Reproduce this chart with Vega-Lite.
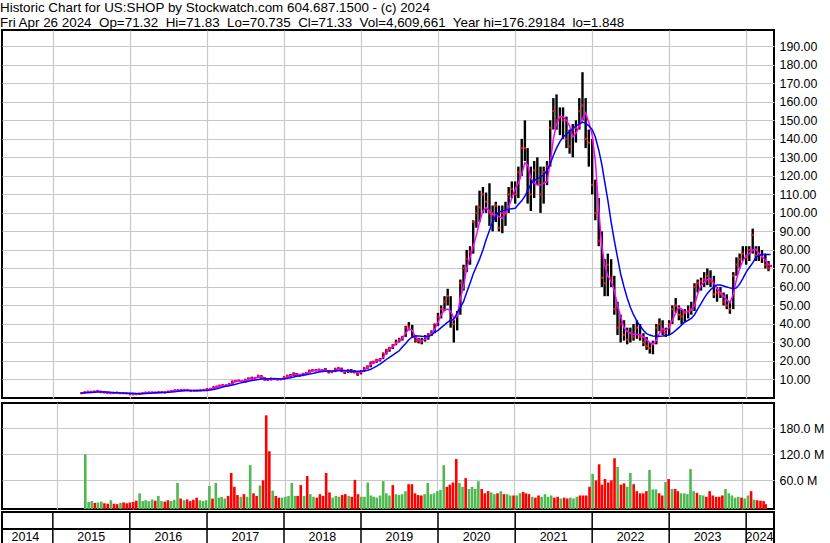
{
"$schema": "https://vega.github.io/schema/vega-lite/v6.json",
"background": "white",
"padding": {"left": 0, "right": 0, "top": 0, "bottom": 0},
"title": {"text": ["Historic Chart for US:SHOP by Stockwatch.com 604.687.1500 - (c) 2024", "Fri Apr 26 2024\u00a0 Op=71.32\u00a0 Hi=71.83\u00a0 Lo=70.735\u00a0 Cl=71.33\u00a0 Vol=4,609,661\u00a0 Year hi=176.29184\u00a0 lo=1.848"], "anchor": "start", "font": "Liberation Sans", "fontSize": 13.4, "fontWeight": "normal", "color": "black", "lineHeight": 15, "offset": 0},
"datasets": {
"p": [
{"d":"2015-05-16","h":3.0,"l":2.5,"c":2.6,"m":2.6,"b":2.6,"v":120,"s":"u"},
{"d":"2015-06-01","h":3.3,"l":2.6,"c":3.1,"m":2.9,"b":2.8,"v":10,"s":"u"},
{"d":"2015-06-16","h":3.5,"l":3.0,"c":3.4,"m":3.2,"b":2.9,"v":12,"s":"u"},
{"d":"2015-07-01","h":3.6,"l":3.1,"c":3.3,"m":3.3,"b":3.0,"v":8,"s":"d"},
{"d":"2015-07-16","h":3.7,"l":3.2,"c":3.5,"m":3.4,"b":3.1,"v":9,"s":"u"},
{"d":"2015-08-01","h":4.0,"l":3.4,"c":3.8,"m":3.6,"b":3.2,"v":11,"s":"u"},
{"d":"2015-08-16","h":3.9,"l":3.0,"c":3.2,"m":3.5,"b":3.3,"v":7,"s":"d"},
{"d":"2015-09-01","h":3.4,"l":2.8,"c":3.0,"m":3.2,"b":3.3,"v":6,"s":"d"},
{"d":"2015-09-16","h":3.2,"l":2.6,"c":2.7,"m":2.9,"b":3.2,"v":14,"s":"u"},
{"d":"2015-10-01","h":2.9,"l":2.4,"c":2.6,"m":2.7,"b":3.1,"v":6,"s":"d"},
{"d":"2015-10-16","h":3.0,"l":2.5,"c":2.8,"m":2.7,"b":2.9,"v":5,"s":"d"},
{"d":"2015-11-01","h":3.1,"l":2.6,"c":2.9,"m":2.8,"b":2.8,"v":8,"s":"u"},
{"d":"2015-11-16","h":3.0,"l":2.5,"c":2.6,"m":2.8,"b":2.7,"v":9,"s":"d"},
{"d":"2015-12-01","h":2.8,"l":2.4,"c":2.6,"m":2.6,"b":2.7,"v":7,"s":"d"},
{"d":"2015-12-16","h":2.7,"l":2.3,"c":2.5,"m":2.6,"b":2.6,"v":9,"s":"d"},
{"d":"2016-01-01","h":2.6,"l":2.0,"c":2.1,"m":2.4,"b":2.6,"v":10,"s":"d"},
{"d":"2016-01-16","h":2.3,"l":1.9,"c":2.0,"m":2.2,"b":2.5,"v":13,"s":"d"},
{"d":"2016-02-01","h":2.3,"l":1.85,"c":2.1,"m":2.1,"b":2.4,"v":30,"s":"u"},
{"d":"2016-02-16","h":2.5,"l":2.0,"c":2.4,"m":2.2,"b":2.3,"v":12,"s":"u"},
{"d":"2016-03-01","h":2.8,"l":2.3,"c":2.7,"m":2.5,"b":2.3,"v":14,"s":"u"},
{"d":"2016-03-16","h":3.0,"l":2.6,"c":2.9,"m":2.8,"b":2.4,"v":12,"s":"u"},
{"d":"2016-04-01","h":3.1,"l":2.7,"c":3.0,"m":2.9,"b":2.5,"v":16,"s":"u"},
{"d":"2016-04-16","h":3.2,"l":2.8,"c":3.0,"m":3.0,"b":2.7,"v":13,"s":"d"},
{"d":"2016-05-01","h":3.2,"l":2.6,"c":2.9,"m":3.0,"b":2.8,"v":24,"s":"u"},
{"d":"2016-05-16","h":3.3,"l":2.8,"c":3.2,"m":3.0,"b":2.9,"v":12,"s":"u"},
{"d":"2016-06-01","h":3.4,"l":2.9,"c":3.1,"m":3.1,"b":3.0,"v":11,"s":"d"},
{"d":"2016-06-16","h":3.3,"l":2.8,"c":3.0,"m":3.1,"b":3.0,"v":14,"s":"d"},
{"d":"2016-07-01","h":3.6,"l":3.0,"c":3.5,"m":3.3,"b":3.1,"v":12,"s":"u"},
{"d":"2016-07-16","h":3.9,"l":3.4,"c":3.8,"m":3.6,"b":3.2,"v":15,"s":"u"},
{"d":"2016-08-01","h":4.3,"l":3.7,"c":4.2,"m":3.9,"b":3.4,"v":54,"s":"u"},
{"d":"2016-08-16","h":4.4,"l":4.0,"c":4.2,"m":4.2,"b":3.6,"v":18,"s":"d"},
{"d":"2016-09-01","h":4.5,"l":4.0,"c":4.3,"m":4.2,"b":3.8,"v":14,"s":"u"},
{"d":"2016-09-16","h":4.6,"l":4.1,"c":4.3,"m":4.3,"b":3.9,"v":16,"s":"d"},
{"d":"2016-10-01","h":4.4,"l":3.9,"c":4.2,"m":4.2,"b":4.0,"v":12,"s":"d"},
{"d":"2016-10-16","h":4.3,"l":3.7,"c":3.8,"m":4.0,"b":4.1,"v":15,"s":"d"},
{"d":"2016-11-01","h":4.0,"l":3.5,"c":3.9,"m":3.9,"b":4.1,"v":20,"s":"d"},
{"d":"2016-11-16","h":4.2,"l":3.7,"c":4.0,"m":3.9,"b":4.0,"v":14,"s":"u"},
{"d":"2016-12-01","h":4.3,"l":3.8,"c":4.1,"m":4.0,"b":4.0,"v":12,"s":"u"},
{"d":"2016-12-16","h":4.4,"l":3.9,"c":4.3,"m":4.2,"b":4.0,"v":14,"s":"u"},
{"d":"2017-01-01","h":5.0,"l":4.2,"c":4.8,"m":4.5,"b":4.1,"v":47,"s":"u"},
{"d":"2017-01-16","h":5.2,"l":4.6,"c":4.9,"m":4.8,"b":4.3,"v":18,"s":"d"},
{"d":"2017-02-01","h":6.0,"l":4.9,"c":5.9,"m":5.3,"b":4.6,"v":54,"s":"u"},
{"d":"2017-02-16","h":6.5,"l":5.7,"c":6.2,"m":6.0,"b":5.0,"v":20,"s":"u"},
{"d":"2017-03-01","h":6.9,"l":6.1,"c":6.7,"m":6.4,"b":5.4,"v":22,"s":"u"},
{"d":"2017-03-16","h":7.3,"l":6.6,"c":7.0,"m":6.8,"b":5.9,"v":18,"s":"u"},
{"d":"2017-04-01","h":7.2,"l":6.5,"c":6.8,"m":6.9,"b":6.3,"v":24,"s":"d"},
{"d":"2017-04-16","h":7.8,"l":6.7,"c":7.5,"m":7.1,"b":6.6,"v":77,"s":"d"},
{"d":"2017-05-01","h":9.2,"l":7.4,"c":9.0,"m":8.0,"b":7.0,"v":45,"s":"d"},
{"d":"2017-05-16","h":9.6,"l":8.6,"c":9.2,"m":8.9,"b":7.4,"v":26,"s":"d"},
{"d":"2017-06-01","h":9.8,"l":8.8,"c":9.4,"m":9.2,"b":7.9,"v":22,"s":"u"},
{"d":"2017-06-16","h":9.5,"l":8.3,"c":8.8,"m":9.1,"b":8.3,"v":28,"s":"d"},
{"d":"2017-07-01","h":10.0,"l":8.5,"c":9.8,"m":9.3,"b":8.6,"v":22,"s":"u"},
{"d":"2017-07-16","h":11.0,"l":9.6,"c":10.5,"m":10.0,"b":9.0,"v":95,"s":"u"},
{"d":"2017-08-01","h":11.5,"l":10.0,"c":10.6,"m":10.6,"b":9.4,"v":30,"s":"d"},
{"d":"2017-08-16","h":11.3,"l":10.2,"c":10.8,"m":10.7,"b":9.7,"v":24,"s":"d"},
{"d":"2017-09-01","h":12.2,"l":10.8,"c":12.0,"m":11.3,"b":10.0,"v":48,"s":"u"},
{"d":"2017-09-16","h":12.3,"l":10.5,"c":11.0,"m":11.6,"b":10.2,"v":60,"s":"d"},
{"d":"2017-10-01","h":11.2,"l":9.5,"c":10.0,"m":10.8,"b":10.4,"v":210,"s":"d"},
{"d":"2017-10-16","h":10.6,"l":9.3,"c":9.8,"m":10.1,"b":10.4,"v":127,"s":"d"},
{"d":"2017-11-01","h":10.8,"l":9.5,"c":10.5,"m":10.0,"b":10.4,"v":36,"s":"u"},
{"d":"2017-11-16","h":10.9,"l":9.8,"c":10.2,"m":10.3,"b":10.4,"v":24,"s":"d"},
{"d":"2017-12-01","h":10.5,"l":9.6,"c":10.0,"m":10.1,"b":10.4,"v":20,"s":"d"},
{"d":"2017-12-16","h":10.5,"l":9.7,"c":10.1,"m":10.1,"b":10.3,"v":20,"s":"u"},
{"d":"2018-01-01","h":11.5,"l":10.0,"c":11.2,"m":10.5,"b":10.4,"v":22,"s":"u"},
{"d":"2018-01-16","h":12.5,"l":11.0,"c":12.0,"m":11.5,"b":10.6,"v":24,"s":"u"},
{"d":"2018-02-01","h":13.0,"l":11.0,"c":12.0,"m":12.0,"b":10.9,"v":54,"s":"u"},
{"d":"2018-02-16","h":13.8,"l":11.8,"c":13.0,"m":12.5,"b":11.3,"v":24,"s":"u"},
{"d":"2018-03-01","h":13.5,"l":12.0,"c":12.3,"m":12.8,"b":11.7,"v":24,"s":"d"},
{"d":"2018-03-16","h":13.0,"l":11.5,"c":12.5,"m":12.5,"b":12.0,"v":49,"s":"d"},
{"d":"2018-04-01","h":13.5,"l":11.8,"c":13.0,"m":12.6,"b":12.3,"v":24,"s":"u"},
{"d":"2018-04-16","h":14.0,"l":12.5,"c":13.3,"m":13.2,"b":12.6,"v":70,"s":"d"},
{"d":"2018-05-01","h":15.0,"l":13.2,"c":14.8,"m":13.9,"b":12.9,"v":28,"s":"u"},
{"d":"2018-05-16","h":15.5,"l":14.3,"c":15.0,"m":14.7,"b":13.2,"v":22,"s":"u"},
{"d":"2018-06-01","h":15.6,"l":14.5,"c":14.9,"m":15.0,"b":13.6,"v":20,"s":"d"},
{"d":"2018-06-16","h":15.8,"l":14.3,"c":15.2,"m":15.0,"b":14.0,"v":28,"s":"d"},
{"d":"2018-07-01","h":15.5,"l":14.2,"c":14.6,"m":15.0,"b":14.3,"v":24,"s":"d"},
{"d":"2018-07-16","h":16.2,"l":14.3,"c":15.5,"m":15.0,"b":14.5,"v":77,"s":"d"},
{"d":"2018-08-01","h":15.0,"l":13.3,"c":14.0,"m":14.6,"b":14.6,"v":32,"s":"d"},
{"d":"2018-08-16","h":14.5,"l":13.4,"c":14.2,"m":14.1,"b":14.6,"v":20,"s":"u"},
{"d":"2018-09-01","h":16.0,"l":14.0,"c":15.8,"m":14.8,"b":14.6,"v":24,"s":"u"},
{"d":"2018-09-16","h":16.5,"l":15.0,"c":16.2,"m":15.8,"b":14.7,"v":22,"s":"u"},
{"d":"2018-10-01","h":16.4,"l":14.0,"c":14.5,"m":15.6,"b":14.8,"v":26,"s":"d"},
{"d":"2018-10-16","h":15.0,"l":13.0,"c":13.8,"m":14.3,"b":14.8,"v":28,"s":"d"},
{"d":"2018-11-01","h":15.5,"l":13.5,"c":15.0,"m":14.4,"b":14.7,"v":24,"s":"u"},
{"d":"2018-11-16","h":15.6,"l":13.6,"c":14.2,"m":14.7,"b":14.6,"v":22,"s":"d"},
{"d":"2018-12-01","h":15.0,"l":13.5,"c":13.8,"m":14.3,"b":14.5,"v":61,"s":"d"},
{"d":"2018-12-16","h":14.2,"l":12.0,"c":13.2,"m":13.6,"b":14.4,"v":28,"s":"d"},
{"d":"2019-01-01","h":15.0,"l":12.8,"c":14.5,"m":13.8,"b":14.5,"v":22,"s":"u"},
{"d":"2019-01-16","h":16.5,"l":14.2,"c":16.2,"m":15.2,"b":14.6,"v":22,"s":"u"},
{"d":"2019-02-01","h":17.5,"l":15.8,"c":17.0,"m":16.5,"b":15.0,"v":55,"s":"u"},
{"d":"2019-02-16","h":19.5,"l":16.6,"c":19.2,"m":18.0,"b":15.5,"v":25,"s":"u"},
{"d":"2019-03-01","h":20.0,"l":18.5,"c":19.6,"m":19.2,"b":16.3,"v":22,"s":"u"},
{"d":"2019-03-16","h":21.0,"l":19.0,"c":20.6,"m":20.0,"b":17.2,"v":20,"s":"u"},
{"d":"2019-04-01","h":21.5,"l":19.8,"c":21.0,"m":20.6,"b":18.3,"v":25,"s":"u"},
{"d":"2019-04-16","h":24.5,"l":21.0,"c":24.0,"m":22.0,"b":19.5,"v":58,"s":"u"},
{"d":"2019-05-01","h":26.5,"l":23.5,"c":26.0,"m":24.5,"b":20.8,"v":30,"s":"u"},
{"d":"2019-05-16","h":27.5,"l":25.0,"c":27.0,"m":26.3,"b":22.0,"v":25,"s":"u"},
{"d":"2019-06-01","h":29.0,"l":26.5,"c":28.5,"m":27.6,"b":23.2,"v":49,"s":"d"},
{"d":"2019-06-16","h":31.5,"l":28.5,"c":30.0,"m":29.5,"b":24.4,"v":28,"s":"u"},
{"d":"2019-07-01","h":32.5,"l":30.0,"c":31.5,"m":30.8,"b":25.5,"v":26,"s":"u"},
{"d":"2019-07-16","h":33.5,"l":31.0,"c":33.0,"m":32.0,"b":27.5,"v":28,"s":"u"},
{"d":"2019-08-01","h":39.0,"l":33.0,"c":38.0,"m":35.0,"b":29.5,"v":35,"s":"u"},
{"d":"2019-08-16","h":41.0,"l":36.5,"c":38.5,"m":37.5,"b":31.5,"v":51,"s":"d"},
{"d":"2019-09-01","h":39.5,"l":32.5,"c":33.0,"m":36.5,"b":33.0,"v":51,"s":"d"},
{"d":"2019-09-16","h":34.0,"l":30.0,"c":31.2,"m":33.0,"b":33.5,"v":30,"s":"d"},
{"d":"2019-10-01","h":32.5,"l":29.5,"c":31.0,"m":31.5,"b":33.5,"v":26,"s":"d"},
{"d":"2019-10-16","h":32.5,"l":29.0,"c":30.5,"m":31.0,"b":33.3,"v":25,"s":"d"},
{"d":"2019-11-01","h":34.0,"l":30.5,"c":33.0,"m":31.8,"b":33.2,"v":28,"s":"u"},
{"d":"2019-11-16","h":35.0,"l":31.5,"c":34.0,"m":33.0,"b":33.2,"v":54,"s":"u"},
{"d":"2019-12-01","h":36.5,"l":33.5,"c":35.5,"m":34.5,"b":34.0,"v":28,"s":"u"},
{"d":"2019-12-16","h":40.0,"l":35.0,"c":39.8,"m":37.0,"b":35.5,"v":30,"s":"u"},
{"d":"2020-01-01","h":46.0,"l":39.0,"c":44.0,"m":41.0,"b":36.5,"v":35,"s":"u"},
{"d":"2020-01-16","h":50.0,"l":43.0,"c":48.0,"m":45.0,"b":38.0,"v":38,"s":"u"},
{"d":"2020-02-01","h":55.0,"l":47.0,"c":52.0,"m":47.5,"b":39.5,"v":95,"s":"u"},
{"d":"2020-02-16","h":59.0,"l":50.0,"c":55.0,"m":48.0,"b":41.0,"v":45,"s":"d"},
{"d":"2020-03-01","h":55.0,"l":38.0,"c":42.0,"m":47.0,"b":42.0,"v":50,"s":"d"},
{"d":"2020-03-16","h":42.0,"l":30.0,"c":40.0,"m":43.0,"b":42.5,"v":55,"s":"d"},
{"d":"2020-04-01","h":47.0,"l":36.5,"c":45.0,"m":44.0,"b":46.0,"v":109,"s":"d"},
{"d":"2020-04-16","h":64.0,"l":45.0,"c":62.0,"m":54.0,"b":49.0,"v":54,"s":"u"},
{"d":"2020-05-01","h":72.0,"l":58.0,"c":70.0,"m":60.0,"b":52.0,"v":45,"s":"u"},
{"d":"2020-05-16","h":80.0,"l":68.0,"c":75.0,"m":70.0,"b":57.0,"v":65,"s":"d"},
{"d":"2020-06-01","h":82.0,"l":72.0,"c":79.0,"m":76.0,"b":62.0,"v":40,"s":"u"},
{"d":"2020-06-16","h":96.0,"l":78.0,"c":95.0,"m":82.0,"b":67.0,"v":45,"s":"u"},
{"d":"2020-07-01","h":104.0,"l":92.0,"c":100.0,"m":88.0,"b":71.0,"v":40,"s":"u"},
{"d":"2020-07-16","h":112.0,"l":95.0,"c":103.0,"m":95.0,"b":75.0,"v":58,"s":"u"},
{"d":"2020-08-01","h":114.0,"l":100.0,"c":110.0,"m":101.0,"b":80.0,"v":40,"s":"d"},
{"d":"2020-08-16","h":111.0,"l":100.0,"c":106.0,"m":103.0,"b":85.5,"v":30,"s":"d"},
{"d":"2020-09-01","h":116.0,"l":93.0,"c":100.0,"m":101.0,"b":90.5,"v":35,"s":"d"},
{"d":"2020-09-16","h":104.0,"l":90.0,"c":100.0,"m":99.0,"b":95.0,"v":32,"s":"u"},
{"d":"2020-10-01","h":106.0,"l":95.0,"c":104.0,"m":99.0,"b":98.5,"v":28,"s":"u"},
{"d":"2020-10-16","h":104.0,"l":90.0,"c":92.0,"m":98.0,"b":100.5,"v":30,"s":"d"},
{"d":"2020-11-01","h":104.0,"l":89.0,"c":100.0,"m":97.0,"b":101.0,"v":35,"s":"u"},
{"d":"2020-11-16","h":106.0,"l":93.0,"c":100.0,"m":100.0,"b":101.5,"v":28,"s":"d"},
{"d":"2020-12-01","h":114.0,"l":100.0,"c":110.0,"m":103.0,"b":102.0,"v":28,"s":"u"},
{"d":"2020-12-16","h":117.0,"l":108.0,"c":113.0,"m":108.0,"b":102.3,"v":25,"s":"u"},
{"d":"2021-01-01","h":117.0,"l":105.0,"c":110.0,"m":113.0,"b":102.5,"v":25,"s":"d"},
{"d":"2021-01-16","h":125.0,"l":108.0,"c":122.0,"m":116.0,"b":104.5,"v":25,"s":"u"},
{"d":"2021-02-01","h":140.0,"l":120.0,"c":135.0,"m":121.0,"b":106.5,"v":30,"s":"u"},
{"d":"2021-02-16","h":150.0,"l":128.0,"c":135.0,"m":127.0,"b":109.0,"v":33,"s":"d"},
{"d":"2021-03-01","h":135.0,"l":105.0,"c":112.0,"m":126.0,"b":112.0,"v":30,"s":"d"},
{"d":"2021-03-16","h":125.0,"l":101.0,"c":110.0,"m":119.0,"b":115.5,"v":28,"s":"d"},
{"d":"2021-04-01","h":128.0,"l":108.0,"c":123.0,"m":116.0,"b":117.5,"v":22,"s":"u"},
{"d":"2021-04-16","h":130.0,"l":115.0,"c":118.0,"m":115.0,"b":118.5,"v":20,"s":"d"},
{"d":"2021-05-01","h":125.0,"l":100.0,"c":110.0,"m":115.0,"b":119.2,"v":25,"s":"d"},
{"d":"2021-05-16","h":125.0,"l":105.0,"c":122.0,"m":116.0,"b":120.5,"v":22,"s":"u"},
{"d":"2021-06-01","h":128.0,"l":115.0,"c":125.0,"m":117.0,"b":123.0,"v":28,"s":"u"},
{"d":"2021-06-16","h":150.0,"l":125.0,"c":146.0,"m":127.0,"b":126.5,"v":22,"s":"u"},
{"d":"2021-07-01","h":162.0,"l":145.0,"c":155.0,"m":140.0,"b":131.0,"v":25,"s":"u"},
{"d":"2021-07-16","h":164.0,"l":145.0,"c":150.0,"m":148.0,"b":135.0,"v":20,"s":"d"},
{"d":"2021-08-01","h":157.0,"l":142.0,"c":152.0,"m":152.0,"b":138.5,"v":22,"s":"d"},
{"d":"2021-08-16","h":157.0,"l":140.0,"c":150.0,"m":152.0,"b":141.0,"v":18,"s":"u"},
{"d":"2021-09-01","h":152.0,"l":135.0,"c":140.0,"m":150.0,"b":142.5,"v":20,"s":"d"},
{"d":"2021-09-16","h":145.0,"l":132.0,"c":136.0,"m":147.0,"b":144.0,"v":18,"s":"d"},
{"d":"2021-10-01","h":148.0,"l":130.0,"c":145.0,"m":141.0,"b":145.5,"v":20,"s":"u"},
{"d":"2021-10-16","h":150.0,"l":138.0,"c":146.0,"m":143.0,"b":147.0,"v":18,"s":"u"},
{"d":"2021-11-01","h":162.0,"l":145.0,"c":155.0,"m":147.0,"b":148.0,"v":22,"s":"u"},
{"d":"2021-11-16","h":176.0,"l":150.0,"c":158.0,"m":151.0,"b":149.0,"v":25,"s":"d"},
{"d":"2021-12-01","h":162.0,"l":135.0,"c":140.0,"m":154.0,"b":148.5,"v":25,"s":"d"},
{"d":"2021-12-16","h":145.0,"l":125.0,"c":138.0,"m":149.0,"b":147.0,"v":25,"s":"d"},
{"d":"2022-01-01","h":140.0,"l":110.0,"c":115.0,"m":142.0,"b":145.0,"v":45,"s":"d"},
{"d":"2022-01-16","h":118.0,"l":96.0,"c":100.0,"m":128.0,"b":141.0,"v":75,"s":"u"},
{"d":"2022-02-01","h":108.0,"l":82.0,"c":85.0,"m":102.0,"b":134.0,"v":60,"s":"d"},
{"d":"2022-02-16","h":90.0,"l":60.0,"c":65.0,"m":82.0,"b":126.0,"v":97,"s":"d"},
{"d":"2022-03-01","h":75.0,"l":55.0,"c":62.0,"m":72.0,"b":117.0,"v":50,"s":"d"},
{"d":"2022-03-16","h":78.0,"l":55.0,"c":72.0,"m":66.0,"b":107.0,"v":63,"s":"d"},
{"d":"2022-04-01","h":75.0,"l":60.0,"c":65.0,"m":63.0,"b":95.0,"v":55,"s":"d"},
{"d":"2022-04-16","h":66.0,"l":45.0,"c":48.0,"m":58.0,"b":85.0,"v":60,"s":"d"},
{"d":"2022-05-01","h":52.0,"l":34.0,"c":38.0,"m":50.0,"b":76.0,"v":111,"s":"d"},
{"d":"2022-05-16","h":45.0,"l":30.0,"c":40.0,"m":44.0,"b":67.0,"v":91,"s":"u"},
{"d":"2022-06-01","h":42.0,"l":31.0,"c":34.0,"m":38.0,"b":60.0,"v":50,"s":"d"},
{"d":"2022-06-16","h":38.0,"l":29.0,"c":31.5,"m":36.0,"b":54.0,"v":53,"s":"d"},
{"d":"2022-07-01","h":38.0,"l":30.0,"c":35.0,"m":35.0,"b":49.0,"v":45,"s":"u"},
{"d":"2022-07-16","h":40.0,"l":31.0,"c":33.0,"m":34.5,"b":45.0,"v":77,"s":"u"},
{"d":"2022-08-01","h":42.0,"l":32.0,"c":38.0,"m":34.5,"b":41.5,"v":51,"s":"d"},
{"d":"2022-08-16","h":40.0,"l":31.0,"c":33.0,"m":34.0,"b":39.0,"v":35,"s":"d"},
{"d":"2022-09-01","h":35.0,"l":28.0,"c":30.0,"m":33.0,"b":36.5,"v":30,"s":"d"},
{"d":"2022-09-16","h":33.0,"l":26.0,"c":28.0,"m":31.5,"b":34.8,"v":30,"s":"d"},
{"d":"2022-10-01","h":30.0,"l":24.0,"c":27.0,"m":30.0,"b":34.0,"v":35,"s":"d"},
{"d":"2022-10-16","h":31.0,"l":23.6,"c":29.0,"m":29.0,"b":33.5,"v":84,"s":"u"},
{"d":"2022-11-01","h":40.0,"l":29.0,"c":38.0,"m":31.0,"b":33.3,"v":39,"s":"u"},
{"d":"2022-11-16","h":43.0,"l":36.0,"c":40.0,"m":35.0,"b":33.3,"v":39,"s":"u"},
{"d":"2022-12-01","h":42.0,"l":34.0,"c":36.0,"m":37.5,"b":33.5,"v":30,"s":"d"},
{"d":"2022-12-16","h":38.0,"l":33.0,"c":35.0,"m":36.5,"b":33.8,"v":25,"s":"d"},
{"d":"2023-01-01","h":42.0,"l":34.0,"c":40.0,"m":38.0,"b":34.0,"v":56,"s":"u"},
{"d":"2023-01-16","h":50.0,"l":40.0,"c":48.0,"m":42.0,"b":35.0,"v":63,"s":"d"},
{"d":"2023-02-01","h":54.0,"l":46.0,"c":50.0,"m":46.0,"b":36.5,"v":40,"s":"u"},
{"d":"2023-02-16","h":50.0,"l":42.0,"c":45.0,"m":49.0,"b":38.0,"v":40,"s":"d"},
{"d":"2023-03-01","h":48.0,"l":40.0,"c":44.0,"m":48.0,"b":39.5,"v":35,"s":"d"},
{"d":"2023-03-16","h":48.0,"l":41.0,"c":46.0,"m":46.5,"b":41.0,"v":30,"s":"u"},
{"d":"2023-04-01","h":50.0,"l":43.0,"c":47.0,"m":46.5,"b":42.0,"v":30,"s":"u"},
{"d":"2023-04-16","h":52.0,"l":45.0,"c":48.0,"m":47.5,"b":43.0,"v":28,"s":"u"},
{"d":"2023-05-01","h":62.0,"l":47.0,"c":60.0,"m":50.0,"b":45.0,"v":86,"s":"u"},
{"d":"2023-05-16","h":64.0,"l":57.0,"c":62.0,"m":56.0,"b":48.0,"v":35,"s":"u"},
{"d":"2023-06-01","h":65.0,"l":58.0,"c":63.0,"m":61.0,"b":51.0,"v":31,"s":"d"},
{"d":"2023-06-16","h":68.0,"l":60.0,"c":64.0,"m":62.5,"b":54.0,"v":26,"s":"u"},
{"d":"2023-07-01","h":70.0,"l":61.0,"c":66.0,"m":64.0,"b":56.5,"v":25,"s":"u"},
{"d":"2023-07-16","h":69.0,"l":60.0,"c":63.0,"m":64.5,"b":58.5,"v":22,"s":"d"},
{"d":"2023-08-01","h":66.0,"l":54.0,"c":56.0,"m":62.0,"b":60.0,"v":35,"s":"d"},
{"d":"2023-08-16","h":60.0,"l":52.0,"c":57.0,"m":59.0,"b":61.0,"v":25,"s":"d"},
{"d":"2023-09-01","h":60.0,"l":54.0,"c":56.0,"m":57.0,"b":61.0,"v":22,"s":"d"},
{"d":"2023-09-16","h":57.0,"l":50.0,"c":52.0,"m":55.0,"b":60.5,"v":22,"s":"d"},
{"d":"2023-10-01","h":56.0,"l":48.0,"c":50.0,"m":53.0,"b":60.0,"v":25,"s":"d"},
{"d":"2023-10-16","h":52.0,"l":45.5,"c":48.0,"m":51.5,"b":59.5,"v":40,"s":"u"},
{"d":"2023-11-01","h":68.0,"l":48.0,"c":66.0,"m":56.0,"b":59.0,"v":30,"s":"u"},
{"d":"2023-11-16","h":76.0,"l":66.0,"c":72.0,"m":64.0,"b":59.5,"v":25,"s":"u"},
{"d":"2023-12-01","h":78.0,"l":70.0,"c":75.0,"m":70.0,"b":61.5,"v":20,"s":"u"},
{"d":"2023-12-16","h":82.0,"l":74.0,"c":78.0,"m":74.0,"b":64.5,"v":22,"s":"u"},
{"d":"2024-01-01","h":82.0,"l":72.0,"c":76.0,"m":77.0,"b":68.0,"v":20,"s":"d"},
{"d":"2024-01-16","h":82.0,"l":74.0,"c":80.0,"m":78.0,"b":70.5,"v":18,"s":"u"},
{"d":"2024-02-01","h":91.5,"l":78.0,"c":88.0,"m":80.0,"b":73.0,"v":25,"s":"u"},
{"d":"2024-02-16","h":82.0,"l":74.0,"c":77.0,"m":80.5,"b":76.0,"v":35,"s":"d"},
{"d":"2024-03-01","h":82.0,"l":74.0,"c":78.0,"m":78.0,"b":77.0,"v":15,"s":"u"},
{"d":"2024-03-16","h":80.0,"l":73.0,"c":76.0,"m":76.5,"b":77.5,"v":14,"s":"d"},
{"d":"2024-04-01","h":78.0,"l":70.0,"c":72.0,"m":74.5,"b":77.5,"v":13,"s":"d"},
{"d":"2024-04-16","h":74.0,"l":68.5,"c":70.0,"m":72.0,"b":77.5,"v":12,"s":"d"},
{"d":"2024-04-26","h":71.83,"l":70.735,"c":71.33,"m":71.5,"b":77.5,"v":5,"s":"d"}
],
"yb": [
{"s":"2015-01-01"},{"s":"2016-01-01"},{"s":"2017-01-01"},{"s":"2018-01-01"},{"s":"2019-01-01"},
{"s":"2020-01-01"},{"s":"2021-01-01"},{"s":"2022-01-01"},{"s":"2023-01-01"},{"s":"2024-01-01"}
],
"yl": [
{"t":"2014","m":"2014-08-24"},{"t":"2015","m":"2015-07-02"},{"t":"2016","m":"2016-07-02"},{"t":"2017","m":"2017-07-02"},
{"t":"2018","m":"2018-07-02"},{"t":"2019","m":"2019-07-02"},{"t":"2020","m":"2020-07-02"},{"t":"2021","m":"2021-07-02"},
{"t":"2022","m":"2022-07-02"},{"t":"2023","m":"2023-07-02"},{"t":"2024","m":"2024-03-04"}
]
},
"vconcat": [
{
"width": 772, "height": 368,
"encoding": {"x": {"field": "d", "type": "temporal",
  "scale": {"type": "utc", "domain": [{"year": 2014, "month": 5, "date": 5, "utc": true}, {"year": 2024, "month": 5, "date": 12, "utc": true}]},
  "axis": {"values": [{"year":2015,"month":1,"date":1,"utc":true},{"year":2016,"month":1,"date":1,"utc":true},{"year":2017,"month":1,"date":1,"utc":true},{"year":2018,"month":1,"date":1,"utc":true},{"year":2019,"month":1,"date":1,"utc":true},{"year":2020,"month":1,"date":1,"utc":true},{"year":2021,"month":1,"date":1,"utc":true},{"year":2022,"month":1,"date":1,"utc":true},{"year":2023,"month":1,"date":1,"utc":true},{"year":2024,"month":1,"date":1,"utc":true}],
   "labels": false, "ticks": false, "domain": false, "title": null, "grid": true, "minExtent": 0, "maxExtent": 0}}},
"layer": [
 {"data": {"name": "p"}, "mark": {"type": "rule", "color": "black", "strokeWidth": 2.4},
  "encoding": {"y": {"field": "l", "type": "quantitative", "scale": {"domain": [0, 198.8], "nice": false, "zero": false},
     "axis": {"orient": "right", "values": [10,20,30,40,50,60,70,80,90,100,110,120,130,140,150,160,170,180,190], "format": ".2f", "title": null, "ticks": false, "domain": false, "grid": true, "labelPadding": 5, "labelFontSize": 12.4, "labelOverlap": false, "labelSeparation": 0, "labelBound": false, "tickCount": 19}},
   "y2": {"field": "h"}}},
 {"data": {"name": "p"}, "mark": {"type": "point", "shape": "square", "filled": true, "color": "#ff0000", "size": 5, "opacity": 1},
  "encoding": {"y": {"field": "c", "type": "quantitative",
     "axis": {"orient": "right", "values": [10,20,30,40,50,60,70,80,90,100,110,120,130,140,150,160,170,180,190], "format": ".2f", "title": null, "ticks": false, "domain": false, "grid": true, "labelPadding": 5, "labelFontSize": 12.4, "labelOverlap": false, "labelSeparation": 0, "labelBound": false, "tickCount": 19}}}},
 {"data": {"name": "p"}, "mark": {"type": "line", "color": "#ff00ff", "strokeWidth": 1.5},
  "encoding": {"y": {"field": "m", "type": "quantitative",
     "axis": {"orient": "right", "values": [10,20,30,40,50,60,70,80,90,100,110,120,130,140,150,160,170,180,190], "format": ".2f", "title": null, "ticks": false, "domain": false, "grid": true, "labelPadding": 5, "labelFontSize": 12.4, "labelOverlap": false, "labelSeparation": 0, "labelBound": false, "tickCount": 19}}}},
 {"data": {"name": "p"}, "mark": {"type": "line", "color": "#0000ff", "strokeWidth": 1.5},
  "encoding": {"y": {"field": "b", "type": "quantitative",
     "axis": {"orient": "right", "values": [10,20,30,40,50,60,70,80,90,100,110,120,130,140,150,160,170,180,190], "format": ".2f", "title": null, "ticks": false, "domain": false, "grid": true, "labelPadding": 5, "labelFontSize": 12.4, "labelOverlap": false, "labelSeparation": 0, "labelBound": false, "tickCount": 19}}}},
 {"data": {"values": [{}]}, "mark": {"type": "text", "text": "US:SHOP", "align": "left", "baseline": "middle", "font": "Liberation Sans", "fontSize": 13, "color": "black"},
  "encoding": {"x": {"datum": {"year": 2014, "month": 6, "date": 9, "utc": true}, "type": "temporal"}, "y": {"datum": 193.4}}}
]
},
{
"vconcat": [
{
"width": 772, "height": 106,
"encoding": {"x": {"field": "d", "type": "temporal",
  "scale": {"type": "utc", "domain": [{"year": 2014, "month": 5, "date": 5, "utc": true}, {"year": 2024, "month": 5, "date": 12, "utc": true}]},
  "axis": {"values": [{"year":2015,"month":1,"date":1,"utc":true},{"year":2016,"month":1,"date":1,"utc":true},{"year":2017,"month":1,"date":1,"utc":true},{"year":2018,"month":1,"date":1,"utc":true},{"year":2019,"month":1,"date":1,"utc":true},{"year":2020,"month":1,"date":1,"utc":true},{"year":2021,"month":1,"date":1,"utc":true},{"year":2022,"month":1,"date":1,"utc":true},{"year":2023,"month":1,"date":1,"utc":true},{"year":2024,"month":1,"date":1,"utc":true}],
   "labels": false, "ticks": false, "domain": false, "title": null, "grid": true, "minExtent": 0, "maxExtent": 0}}},
"layer": [
 {"data": {"name": "p"}, "mark": {"type": "bar", "width": 2.6},
  "encoding": {"y": {"field": "v", "type": "quantitative", "scale": {"domain": [-6.2, 238.4], "nice": false, "zero": false},
     "axis": {"orient": "right", "values": [60, 120, 180], "labelExpr": "datum.value + '.0 M'", "title": null, "ticks": false, "domain": false, "grid": true, "labelPadding": 5, "labelFontSize": 12.4, "labelOverlap": false}},
   "y2": {"datum": -6.2},
   "color": {"field": "s", "type": "nominal", "scale": {"domain": ["u", "d"], "range": ["#50b850", "#ff0000"]}, "legend": null}}},
 {"data": {"values": [{}]}, "mark": {"type": "text", "text": "Volume", "align": "left", "baseline": "middle", "font": "Liberation Sans", "fontSize": 13, "color": "black"},
  "encoding": {"x": {"datum": {"year": 2014, "month": 6, "date": 7, "utc": true}, "type": "temporal"}, "y": {"datum": 215}}}
]
},
{
"width": 772, "height": 32,
"layer": [
 {"data": {"name": "yb"}, "mark": {"type": "rule", "color": "black", "strokeWidth": 1.5},
  "encoding": {"x": {"field": "s", "type": "temporal",
    "scale": {"type": "utc", "domain": [{"year": 2014, "month": 5, "date": 5, "utc": true}, {"year": 2024, "month": 5, "date": 12, "utc": true}]}, "axis": null}}},
 {"data": {"values": [{}]}, "mark": {"type": "rule", "color": "black", "strokeWidth": 2},
  "encoding": {"y": {"datum": 0.47, "type": "quantitative", "scale": {"domain": [0, 1], "nice": false}, "axis": null}}},
 {"data": {"name": "yl"}, "mark": {"type": "text", "font": "Liberation Sans", "fontSize": 12.5, "color": "black", "baseline": "middle", "align": "center"},
  "encoding": {"x": {"field": "m", "type": "temporal"}, "y": {"datum": 0.22, "type": "quantitative"}, "text": {"field": "t"}}}
]
}
],
"spacing": 0,
"resolve": {"scale": {"x": "independent", "y": "independent"}}
}
],
"spacing": 3,
"resolve": {"scale": {"x": "independent", "y": "independent", "color": "independent"}},
"config": {
 "view": {"stroke": "black", "strokeWidth": 2},
 "axis": {"labelFont": "Liberation Sans", "labelColor": "black", "gridColor": "#c8c8c8", "gridWidth": 1.2, "labelOverlap": false},
 "concat": {"spacing": 0}
}
}
